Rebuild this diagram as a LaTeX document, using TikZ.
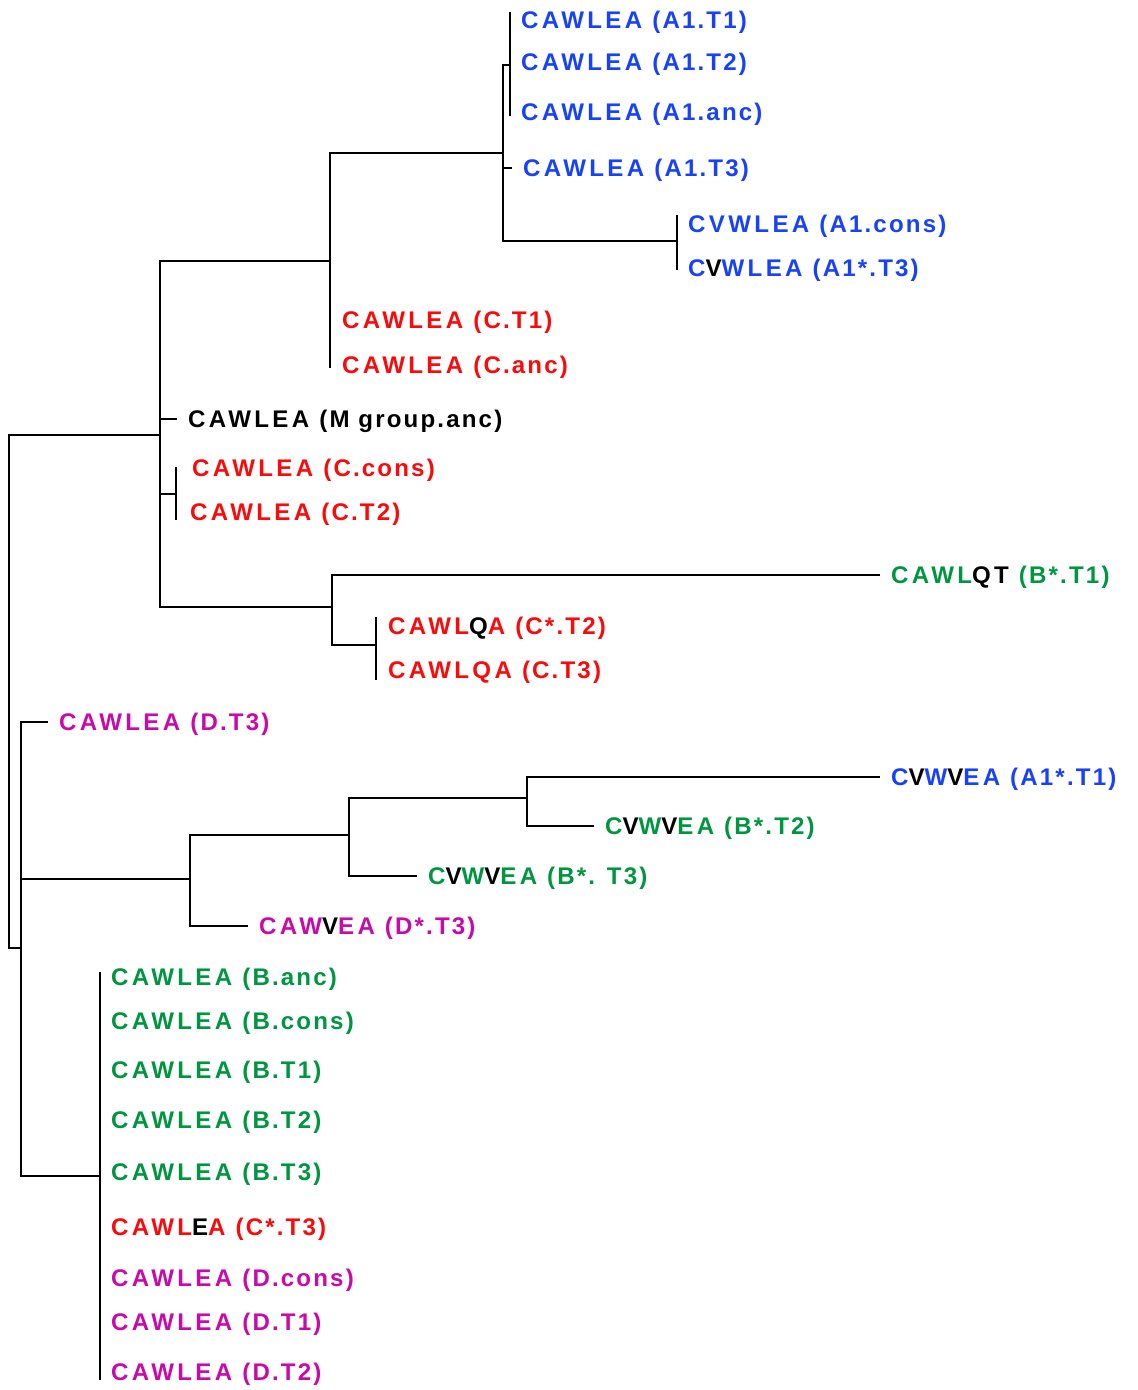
\documentclass[tikz,border=0pt]{standalone}
\usepackage{fontspec}
\setmainfont{Liberation Sans}
\newfontfamily\seqfont{Liberation Sans}[LetterSpace=14]
\newfontfamily\labfont{Liberation Sans}[LetterSpace=9]
\definecolor{grpA}{RGB}{24,66,250}
\definecolor{grpB}{RGB}{0,150,64}
\definecolor{grpC}{RGB}{250,10,10}
\definecolor{grpD}{RGB}{200,10,170}
\newcommand{\blk}[1]{\textcolor{black}{#1}}

\begin{document}
\begin{tikzpicture}[x=0.02cm, y=-0.02cm, line width=1.3pt,
	leaf/.style={anchor=west, inner xsep=5.7pt, inner ysep=0pt, text height=9.6pt, text depth=0pt,
		font=\fontsize{13.7}{16}\selectfont\bfseries}]
	\useasboundingbox (0,0) rectangle (1138,1390);
	\foreach \nm/\x/\y/\col/\sq/\lab in {
		a1t1/510/20/grpA/CAWLEA/A1.T1, a1t2/510/62/grpA/CAWLEA/A1.T2,
		a1anc/510/112/grpA/CAWLEA/A1.anc, a1t3/512/168/grpA/CAWLEA/A1.T3,
		a1cons/677/224/grpA/CVWLEA/A1.cons, a1st3/677/268/grpA/C\blk{V}WLEA/A1*.T3,
		ct1/331/320/grpC/CAWLEA/C.T1, canc/331/365/grpC/CAWLEA/C.anc,
		manc/177/419/black/CAWLEA/M group.anc,
		ccons/181/468/grpC/CAWLEA/C.cons, ct2/179/512/grpC/CAWLEA/C.T2,
		bst1/880/575/grpB/CAWL\blk{QT}/B*.T1,
		cst2/377/626/grpC/CAWL\blk{Q}A/C*.T2, ct3/377/670/grpC/CAWLQA/C.T3,
		dt3/48/722/grpD/CAWLEA/D.T3,
		a1st1/880/777/grpA/C\blk{V}W\blk{V}EA/A1*.T1,
		bst2/594/826/grpB/C\blk{V}W\blk{V}EA/B*.T2,
		bst3/417/876/grpB/C\blk{V}W\blk{V}EA/B*. T3,
		dst3/248/926/grpD/CAW\blk{V}EA/D*.T3,
		banc/100/977/grpB/CAWLEA/B.anc, bcons/100/1021/grpB/CAWLEA/B.cons,
		bt1/100/1070/grpB/CAWLEA/B.T1, bt2/100/1120/grpB/CAWLEA/B.T2,
		bt3/100/1172/grpB/CAWLEA/B.T3, cst3/100/1227/grpC/CAWL\blk{E}A/C*.T3,
		dcons/100/1278/grpD/CAWLEA/D.cons, dt1/100/1322/grpD/CAWLEA/D.T1,
		dt2/100/1372/grpD/CAWLEA/D.T2} {
		\node[leaf, text=\col] (\nm) at (\x,\y) {{\seqfont\sq~}{\labfont(\lab)}};
	}
	\foreach \nm/\x/\y in {root/9/691, nM/160/435, nL/21/948, nAC/330/261, nA1/503/153,
		nA1a/510/65, nA1b/677/241, nCc/176/494, nQ/332/607, nQa/376/645,
		nV/190/879, nV2/349/835, nV3/527/798, nB/100/1176,
		a1top/510/12, a1bot/510/116, a1ctop/677/215, a1cbot/677/270, cbot/330/368,
		cctop/176/467, ccbot/176/520, qtop/376/617, qbot/376/680, btop/100/972, bbot/100/1380}
		\coordinate (\nm) at (\x,\y);
	\foreach \p/\c in {root/nM, root/nL, nM/nAC, nM/manc, nM/nCc, nM/nQ, nAC/nA1,
		nA1/nA1a, nA1/a1t3, nA1/nA1b, nQ/bst1, nQ/nQa, nL/dt3, nL/nV, nL/nB,
		nV/nV2, nV/dst3, nV2/nV3, nV2/bst3, nV3/a1st1, nV3/bst2}
		\draw (\p) |- (\c);
	\foreach \t/\b in {a1top/a1bot, a1ctop/a1cbot, nAC/cbot, cctop/ccbot, qtop/qbot, btop/bbot}
		\draw (\t) -- (\b);
\end{tikzpicture}
\end{document}
